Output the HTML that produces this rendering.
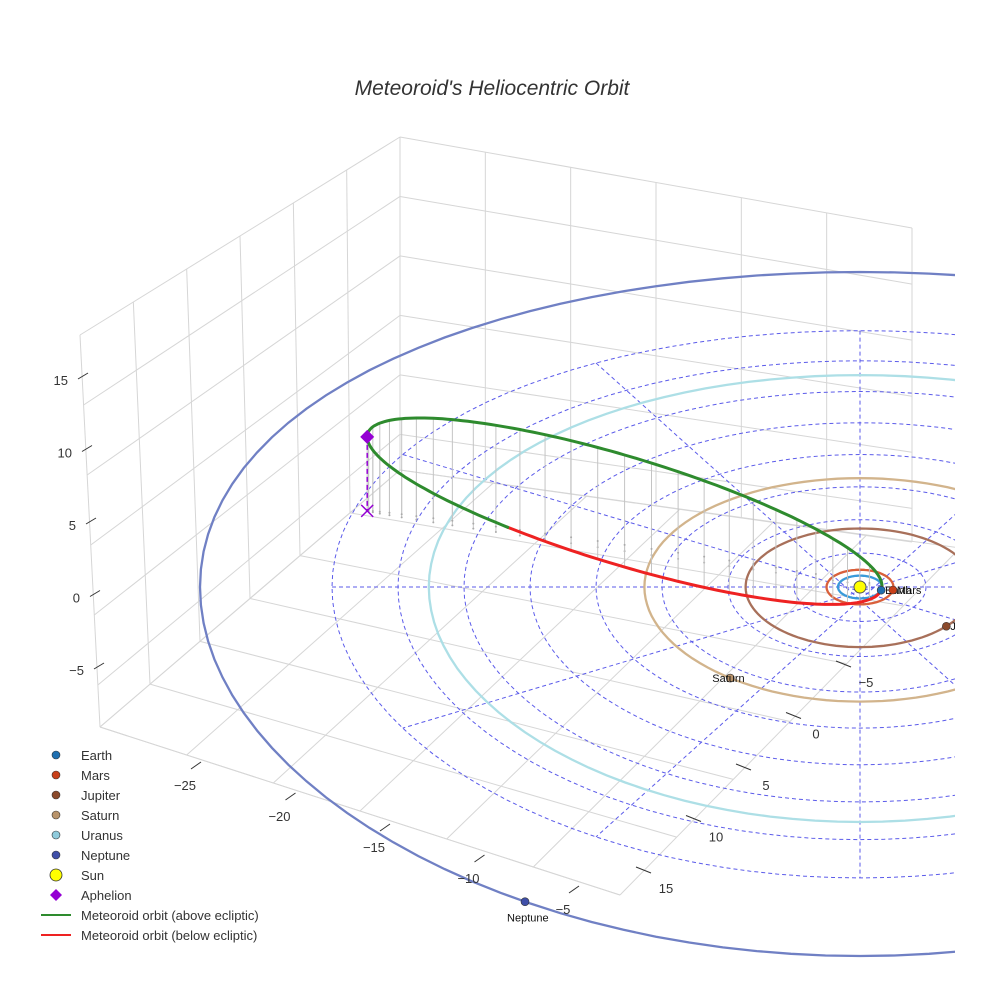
<!DOCTYPE html>
<html><head><meta charset="utf-8"><style>
html,body{margin:0;padding:0;background:#fff;}
svg{display:block;font-family:"Liberation Sans",sans-serif;}
</style></head><body>
<svg id="chart" width="984" height="984" viewBox="0 0 984 984" xmlns="http://www.w3.org/2000/svg">
<defs><clipPath id="clip"><rect x="0" y="0" width="955" height="984"/></clipPath></defs>
<text x="492" y="95" text-anchor="middle" font-size="21" font-style="italic" fill="#333">Meteoroid's Heliocentric Orbit</text>
<g id="box" clip-path="url(#clip)"></g>
<g id="scene" clip-path="url(#clip)"></g>
<g id="ticks"></g>
<g id="legend"></g>
</svg>
<script>
// ---- data ----
const planetNames = ["Earth","Mars","Jupiter","Saturn","Uranus","Neptune"];
const planetA = [1.0, 1.52, 5.2, 9.8, 19.6, 30.0];
const planetAngle = [16, 10, 41, 127, -15, 120.5];
const planetColor = ["#1f6fb0","#c8401a","#8b4a2b","#b8936a","#8fcbdc","#3f4fa8"];
const orbitColor = ["#3a9ad9","#d9603b","#a8705a","#d2b48c","#addfe6","#7080c4"];
const gridRings = [3,6,9,12,15,18,21,24];
const gridRadialAngles = [0,30,60,90,120,150];
const aphelion = [-22.4,-6.8,5.0];
const perihelion = [1.0,-0.1,0.0];
const minorAxisVec = [0.0,0.28,4.0];
const zTicks = [15,10,5,0,-5];
const xTicks = [-25,-20,-15,-10,-5];
const yTicks = [-5,0,5,10,15];

const NS="http://www.w3.org/2000/svg";
function el(tag, attrs, parent, name){
  const e=document.createElementNS(NS,tag);
  for(const k in attrs) e.setAttribute(k,attrs[k]);
  
  
  parent.appendChild(e); return e;
}
const SX=860, SY=587;
function proj(u,v,z){
  return [SX + 22*u, SY + 11.4*v + 0.03*v*v - 14.8*z];
}
const box=document.getElementById('box');
const scene=document.getElementById('scene');
const ticks=document.getElementById('ticks');
const legend=document.getElementById('legend');

function lerp(a,b,t){return [a[0]+(b[0]-a[0])*t,a[1]+(b[1]-a[1])*t];}
function line(p,q,stroke,w,parent,name,dash){
  const a={x1:p[0],y1:p[1],x2:q[0],y2:q[1],stroke:stroke,'stroke-width':w};
  if(dash) a['stroke-dasharray']=dash;
  return el('line',a,parent,name);
}
const LT=[80,335], CT=[400,137], RT=[912,228];
const LB=[100,727], CB=[400,470], RBw=[912,542], RB=[960,548], FC=[620,895];
const gc="#d6d6d6";
// left wall
for(let i=0;i<=6;i++){const t=i/6; line(lerp(LT,CT,t),lerp(LB,CB,t),gc,1,box,'left-wall-vgrid');}
for(let i=0;i<=5;i++){const t=i/5.6; line(lerp(LT,LB,t),lerp(CT,CB,t),gc,1,box,'left-wall-hgrid');}
line(LB,CB,gc,1,box,'left-wall-bottom');
// back wall
for(let i=0;i<=6;i++){const t=i/6; line(lerp(CT,RT,t),lerp(CB,RBw,t),gc,1,box,'back-wall-vgrid');}
for(let i=0;i<=5;i++){const t=i/5.6; line(lerp(CT,CB,t),lerp(RT,RBw,t),gc,1,box,'back-wall-hgrid');}
line(CB,RBw,gc,1,box,'back-wall-bottom');
// floor (quad LB, CB, RB, FC)
for(let i=0;i<=6;i++){const t=i/6; line(lerp(LB,FC,t),lerp(CB,RB,t),gc,1,box,'floor-grid-x');}
for(let i=0;i<=6;i++){const t=i/6; line(lerp(LB,CB,t),lerp(FC,RB,t),gc,1,box,'floor-grid-y');}
line(LB,FC,gc,1,box,'floor-front-edge');

// ---- ecliptic grid ----
function ringPath(r,z){
  let d=''; for(let i=0;i<=120;i++){const a=i/120*2*Math.PI; const p=proj(r*Math.cos(a),r*Math.sin(a),z||0); d+=(i?'L':'M')+p[0].toFixed(1)+','+p[1].toFixed(1);} return d;
}
gridRings.forEach(r=>{ el('path',{d:ringPath(r),fill:'none',stroke:'#5b5bea','stroke-width':1,'stroke-dasharray':'4,3'},scene,'ecliptic-grid-ring'); });
const Rmax=gridRings[gridRings.length-1];
gridRadialAngles.forEach(a=>{
  const r=a*Math.PI/180;
  line(proj(-Rmax*Math.cos(r),-Rmax*Math.sin(r),0),proj(Rmax*Math.cos(r),Rmax*Math.sin(r),0),'#5b5bea',1,scene,'ecliptic-grid-radial','4,3');
});
planetA.forEach((a,i)=>{ el('path',{d:ringPath(a),fill:'none',stroke:orbitColor[i],'stroke-width':2.3},scene,'orbit-'+planetNames[i].toLowerCase()); });

// ---- meteoroid orbit ----
const C=[0,1,2].map(k=>(aphelion[k]+perihelion[k])/2);
const A=[0,1,2].map(k=>aphelion[k]-C[k]);
function orb(t){return [0,1,2].map(k=>C[k]+A[k]*Math.cos(t)+minorAxisVec[k]*Math.sin(t));}
const N=240;
for(let i=0;i<60;i++){
  const t=(i/60)*2*Math.PI; const P=orb(t);
  if(P[0]>0.5) continue;
  const p=proj(P[0],P[1],P[2]), g=proj(P[0],P[1],0);
  line(p,g,'#c4c4c4',1,scene,'drop-line');
  el('circle',{cx:g[0],cy:g[1],r:1,fill:'#aaa'},scene,'drop-line-foot');
}
let segAbove=null, segPts=[];
function flush(){ if(segPts.length>1){ el('polyline',{points:segPts.map(p=>p[0].toFixed(1)+','+p[1].toFixed(1)).join(' '),fill:'none',stroke:segAbove?'#2e8b2e':'#ee2222','stroke-width':3,'stroke-linecap':'round'},scene,segAbove?'orbit-above-ecliptic':'orbit-below-ecliptic'); } }
for(let i=0;i<=N;i++){
  const t=i/N*2*Math.PI; const P=orb(t); const above=P[2]>=0; const p=proj(P[0],P[1],P[2]);
  if(segAbove===null) segAbove=above;
  if(above!==segAbove){ segPts.push(p); flush(); segPts=[p]; segAbove=above; } else segPts.push(p);
}
flush();
const ap=proj(aphelion[0],aphelion[1],aphelion[2]), ag=proj(aphelion[0],aphelion[1],0);
line(ap,ag,'#9400d3',1.5,scene,'aphelion-drop-line','5,3');
el('path',{d:`M${ag[0]-6},${ag[1]-6}L${ag[0]+6},${ag[1]+6}M${ag[0]+6},${ag[1]-6}L${ag[0]-6},${ag[1]+6}`,stroke:'#9400d3','stroke-width':1.5},scene,'aphelion-projection-marker');
el('path',{d:`M${ap[0]},${ap[1]-7}L${ap[0]+7},${ap[1]}L${ap[0]},${ap[1]+7}L${ap[0]-7},${ap[1]}Z`,fill:'#9400d3'},scene,'aphelion-marker');

const sp=proj(0,0,0);
el('circle',{cx:sp[0],cy:sp[1],r:6,fill:'#ffff00',stroke:'#555','stroke-width':1},scene,'sun-marker');
planetA.forEach((a,i)=>{
  const r=planetAngle[i]*Math.PI/180; const p=proj(a*Math.cos(r),a*Math.sin(r),0);
  el('circle',{cx:p[0],cy:p[1],r:4,fill:planetColor[i],stroke:'#333','stroke-width':0.6},scene,'planet-'+planetNames[i].toLowerCase());
  const t=el('text',{x:p[0]+(i===3||i===5?-18:4),y:p[1]+(i===5?20:4),'font-size':11,fill:'#111'},scene,'planet-label');
  t.textContent=planetNames[i];
});

// ---- ticks ----
zTicks.forEach((v,i)=>{
  const y=375+ (15-v)/5*72.5;
  const x=78+(15-v)/5*4;
  line([x,y+4],[x+10,y-2],'#333',1,ticks,'z-tick-mark');
  const t=el('text',{x:x-10,y:y+10,'font-size':13,'text-anchor':'end',fill:'#333'},ticks,'z-tick-label'); t.textContent=String(v).replace('-','\u2212');
});
xTicks.forEach((v,i)=>{
  const lx=185+(v+25)/5*94.5, ly=790+(v+25)/5*31;
  line([lx+6,ly-21],[lx+16,ly-28],'#333',1,ticks,'x-tick-mark');
  const t=el('text',{x:lx,y:ly,'font-size':13,'text-anchor':'middle',fill:'#333'},ticks,'x-tick-label'); t.textContent=String(v).replace('-','\u2212');
});
yTicks.forEach((v,i)=>{
  const lx=866-(v+5)/5*50, ly=687+(v+5)/5*51.5;
  line([lx-30,ly-26],[lx-15,ly-20],'#333',1,ticks,'y-tick-mark');
  const t=el('text',{x:lx,y:ly,'font-size':13,'text-anchor':'middle',fill:'#333'},ticks,'y-tick-label'); t.textContent=String(v).replace('-','\u2212');
});

// ---- legend ----
const legLabels=["Earth","Mars","Jupiter","Saturn","Uranus","Neptune","Sun","Aphelion","Meteoroid orbit (above ecliptic)","Meteoroid orbit (below ecliptic)"];
const legColors=["#1f6fb0","#c8401a","#8b4a2b","#b8936a","#8fcbdc","#3f4fa8","#ffff00","#9400d3","#2e8b2e","#ee2222"];
legLabels.forEach((lab,i)=>{
  const y=755+i*20; const g=el('g',{},legend,'legend-entry');
  if(i<6) el('circle',{cx:56,cy:y,r:4,fill:legColors[i],stroke:'#333','stroke-width':0.6},g,'legend-marker');
  else if(i===6) el('circle',{cx:56,cy:y,r:6,fill:legColors[i],stroke:'#333','stroke-width':0.8},g,'legend-marker');
  else if(i===7) el('path',{d:`M56,${y-6}L62,${y}L56,${y+6}L50,${y}Z`,fill:legColors[i]},g,'legend-marker');
  else line([41,y],[71,y],legColors[i],2,g,'legend-line');
  const t=el('text',{x:81,y:y+5,'font-size':13,fill:'#333'},g,'legend-label'); t.textContent=lab;
});
</script>
</body></html>
